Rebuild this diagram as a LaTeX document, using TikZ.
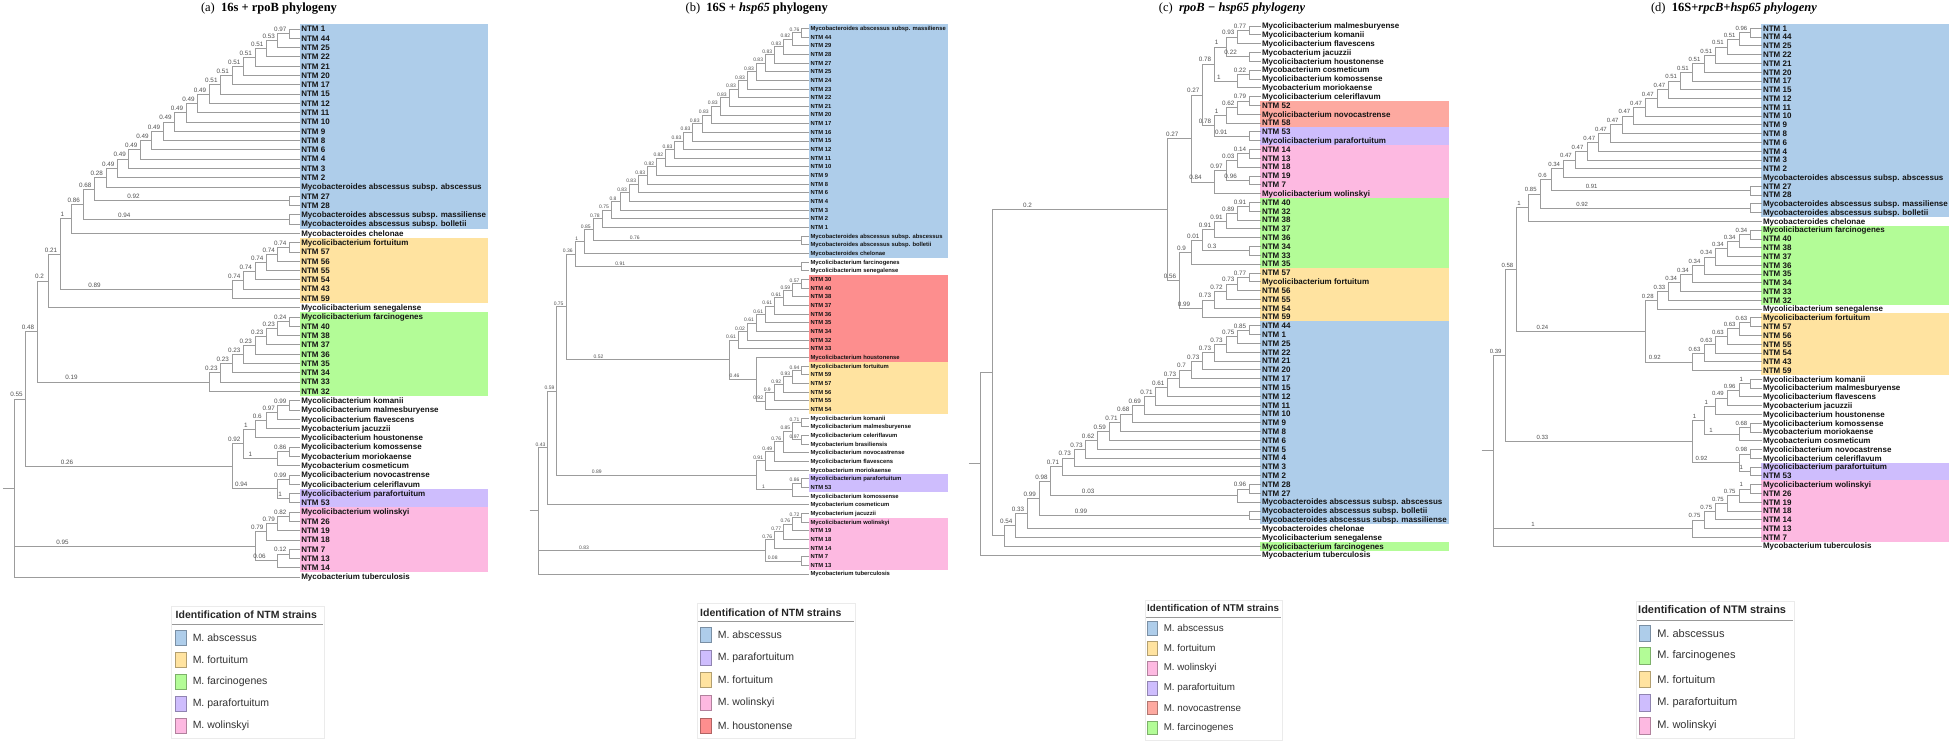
\documentclass[tikz,border=0pt]{standalone}
\usepackage{fontspec}
\usetikzlibrary{calc}
\newfontfamily\lsans{Liberation Sans}
\newfontfamily\lserif{Liberation Serif}
\pgfdeclarelayer{bg}
\pgfsetlayers{bg,main}
\definecolor{brc}{HTML}{9C9C9C}
\definecolor{svc}{HTML}{505050}
\definecolor{txt}{HTML}{141414}
\definecolor{cblue}{HTML}{AECDEA}
\definecolor{cyel}{HTML}{FFE3A0}
\definecolor{cgrn}{HTML}{B3FC97}
\definecolor{cpur}{HTML}{CEBDFD}
\definecolor{cpnk}{HTML}{FDB9E1}
\definecolor{cred}{HTML}{FD8E8E}
\definecolor{csal}{HTML}{FDA9A0}
\tikzset{
  br/.style={draw=brc, line width=0.75pt},
  leaf/.style={anchor=west, inner xsep=1.3pt, inner ysep=0pt, outer sep=0pt, text=txt,
    font=\lsans\bfseries\fontsize{\LFS}{\LFS}\selectfont, text height=\LTH, text depth=0pt},
  sv/.style={anchor=south, inner sep=0.6pt, yshift=\SVY, text=svc,
    font=\lsans\fontsize{\SFS}{\SFS}\selectfont},
  ttl/.style={anchor=base, inner sep=0pt, font=\lserif\fontsize{12.5}{14}\selectfont},
  lgbox/.style={draw=black!8, fill=white, line width=0.6pt},
  lgline/.style={draw=black!40, line width=1pt},
  lgt/.style={anchor=west, inner sep=0pt, text=black!85, font=\lsans\bfseries\fontsize{\GFS}{\GFS}\selectfont},
  lgi/.style={anchor=west, inner sep=0pt, text=black!80, font=\lsans\fontsize{\GFS}{\GFS}\selectfont},
  sw/.style={minimum width=\SWW, minimum height=\SWH, inner sep=0pt, line width=0.6pt},
}
\newcommand\lf[3]{\node[leaf] (#1) at (\LX,{\YO+(#2-1)*\DY}) {#3};}
\newcommand\svlab[2]{\ifcsname sv@#2\endcsname\path ($(#1 |- #2)!0.2!(#2)$) node[sv] (sv#2) {\csname sv@#2\endcsname};\fi}
\newcommand\cl[5]{%
  \path let \p1=(#4), \p2=(#5) in ({(\LO-(#2)*\ST)*1pt},{0.5*(\y1+\y2)}) coordinate (#1);%
  \draw[br] (#1) |- (#4);\draw[br] (#1) |- (#5);%
  \svlab{#1}{#4}\svlab{#1}{#5}%
  \expandafter\xdef\csname sv@#1\endcsname{#3}}
\newcommand\clt[6]{%
  \path let \p1=(#4), \p2=(#6) in ({(\LO-(#2)*\ST)*1pt},{0.5*(\y1+\y2)}) coordinate (#1);%
  \draw[br] (#1) |- (#4);\draw[br] (#1) |- (#5);\draw[br] (#1) |- (#6);%
  \svlab{#1}{#4}\svlab{#1}{#5}\svlab{#1}{#6}%
  \expandafter\xdef\csname sv@#1\endcsname{#3}}
\newcommand\stub[2]{\path (#1) ++({-\ST},0) coordinate (#2); \draw[br] (#2) -- (#1);}
\newcommand\bx[3]{\begin{pgfonlayer}{bg}\fill[#1] let \p1=(\WID.east) in ({\LX-0.5},{\YO+(#2-1.5)*\DY}) rectangle (\x1+0.8pt,{-(\YO+(#3-0.5)*\DY)*1pt});\end{pgfonlayer}}
\newcommand\lgitem[5]{\node[sw, fill=#4, draw=#4!70!black] (#1) at (#2,#3) {}; \node[lgi] (#1t) at ($(#1.east)+(6,0)$) {#5};}
\begin{document}
\begin{tikzpicture}[x=1pt,y=-1pt]
\useasboundingbox (0,0) rectangle (1949,743);
\begin{pgfonlayer}{bg}\fill[white] (0,0) rectangle (1949,743);\end{pgfonlayer}

% ---------------- titles
\node[ttl] (TA) at (269,11.3) {(a)\ \ \textbf{16s + rpoB phylogeny}};
\node[ttl] (TB) at (756.7,11.3) {(b)\ \ \textbf{16S + \textit{hsp65} phylogeny}};
\node[ttl] (TC) at (1232,11.3) {(c)\ \ \textbf{\textit{rpoB − hsp65 phylogeny}}};
\node[ttl] (TD) at (1734,11.3) {(d)\ \ \textbf{16S+\textit{rpcB+hsp65 phylogeny}}};

% ================= PANEL A
\begin{scope}
\def\LX{300}\def\YO{29}\def\DY{9.29}\def\LO{289.3}\def\ST{11.46}
\def\LFS{8}\def\LTH{5.75pt}\def\SFS{6.3}\def\SVY{1.2pt}\def\WID{A21}
\lf{A1}{1}{NTM 1}\lf{A2}{2}{NTM 44}\lf{A3}{3}{NTM 25}\lf{A4}{4}{NTM 22}\lf{A5}{5}{NTM 21}
\lf{A6}{6}{NTM 20}\lf{A7}{7}{NTM 17}\lf{A8}{8}{NTM 15}\lf{A9}{9}{NTM 12}\lf{A10}{10}{NTM 11}
\lf{A11}{11}{NTM 10}\lf{A12}{12}{NTM 9}\lf{A13}{13}{NTM 8}\lf{A14}{14}{NTM 6}\lf{A15}{15}{NTM 4}
\lf{A16}{16}{NTM 3}\lf{A17}{17}{NTM 2}
\lf{A18}{18}{Mycobacteroides abscessus subsp. abscessus}
\lf{A19}{19}{NTM 27}\lf{A20}{20}{NTM 28}
\lf{A21}{21}{Mycobacteroides abscessus subsp. massiliense}
\lf{A22}{22}{Mycobacteroides abscessus subsp. bolletii}
\lf{A23}{23}{Mycobacteroides chelonae}
\lf{A24}{24}{Mycolicibacterium fortuitum}
\lf{A25}{25}{NTM 57}\lf{A26}{26}{NTM 56}\lf{A27}{27}{NTM 55}\lf{A28}{28}{NTM 54}\lf{A29}{29}{NTM 43}\lf{A30}{30}{NTM 59}
\lf{A31}{31}{Mycolicibacterium senegalense}
\lf{A32}{32}{Mycolicibacterium farcinogenes}
\lf{A33}{33}{NTM 40}\lf{A34}{34}{NTM 38}\lf{A35}{35}{NTM 37}\lf{A36}{36}{NTM 36}\lf{A37}{37}{NTM 35}
\lf{A38}{38}{NTM 34}\lf{A39}{39}{NTM 33}\lf{A40}{40}{NTM 32}
\lf{A41}{41}{Mycolicibacterium komanii}
\lf{A42}{42}{Mycolicibacterium malmesburyense}
\lf{A43}{43}{Mycolicibacterium flavescens}
\lf{A44}{44}{Mycobacterium jacuzzii}
\lf{A45}{45}{Mycolicibacterium houstonense}
\lf{A46}{46}{Mycolicibacterium komossense}
\lf{A47}{47}{Mycobacterium moriokaense}
\lf{A48}{48}{Mycobacterium cosmeticum}
\lf{A49}{49}{Mycolicibacterium novocastrense}
\lf{A50}{50}{Mycolicibacterium celeriflavum}
\lf{A51}{51}{Mycolicibacterium parafortuitum}
\lf{A52}{52}{NTM 53}
\lf{A53}{53}{Mycolicibacterium wolinskyi}
\lf{A54}{54}{NTM 26}\lf{A55}{55}{NTM 19}\lf{A56}{56}{NTM 18}\lf{A57}{57}{NTM 7}\lf{A58}{58}{NTM 13}\lf{A59}{59}{NTM 14}
\lf{A60}{60}{Mycobacterium tuberculosis}
\bx{cblue}{1}{22}\bx{cyel}{24}{30}\bx{cgrn}{32}{40}\bx{cpur}{51}{52}\bx{cpnk}{53}{59}
\cl{An1}{0}{0.97}{A1}{A2}
\cl{An2}{1}{0.53}{An1}{A3}
\cl{An3}{2}{0.51}{An2}{A4}
\cl{An4}{3}{0.51}{An3}{A5}
\cl{An5}{4}{0.51}{An4}{A6}
\cl{An6}{5}{0.51}{An5}{A7}
\cl{An7}{6}{0.51}{An6}{A8}
\cl{An8}{7}{0.49}{An7}{A9}
\cl{An9}{8}{0.49}{An8}{A10}
\cl{An10}{9}{0.49}{An9}{A11}
\cl{An11}{10}{0.49}{An10}{A12}
\cl{An12}{11}{0.49}{An11}{A13}
\cl{An13}{12}{0.49}{An12}{A14}
\cl{An14}{13}{0.49}{An13}{A15}
\cl{An15}{14}{0.49}{An14}{A16}
\cl{An16}{15}{0.49}{An15}{A17}
\cl{An17}{16}{0.28}{An16}{A18}
\cl{Ap}{0}{0.92}{A19}{A20}
\cl{An18}{17}{0.68}{An17}{Ap}
\cl{Aq}{0}{0.94}{A21}{A22}
\cl{An19}{18}{0.86}{An18}{Aq}
\cl{An20}{19}{1}{An19}{A23}
\cl{Af1}{0}{0.74}{A24}{A25}
\cl{Af2}{1}{0.74}{Af1}{A26}
\cl{Af3}{2}{0.74}{Af2}{A27}
\cl{Af4}{3}{0.74}{Af3}{A28}
\cl{Af5}{4}{0.74}{Af4}{A29}
\cl{Af6}{5}{0.89}{Af5}{A30}
\cl{An21}{20}{0.21}{An20}{Af6}
\cl{An22}{21}{0.2}{An21}{A31}
\cl{Ag1}{0}{0.24}{A32}{A33}
\cl{Ag2}{1}{0.23}{Ag1}{A34}
\cl{Ag3}{2}{0.23}{Ag2}{A35}
\cl{Ag4}{3}{0.23}{Ag3}{A36}
\cl{Ag5}{4}{0.23}{Ag4}{A37}
\cl{Ag6}{5}{0.23}{Ag5}{A38}
\cl{Ag7}{6}{0.23}{Ag6}{A39}
\cl{Ag8}{7}{0.19}{Ag7}{A40}
\cl{An23}{22}{0.48}{An22}{Ag8}
\cl{Am1}{0}{0.99}{A41}{A42}
\cl{Am2}{1}{0.97}{Am1}{A43}
\cl{Am3}{2}{0.6}{Am2}{A44}
\cl{Am4}{3}{1}{Am3}{A45}
\cl{Am5}{0}{0.86}{A46}{A47}
\cl{Am6}{1}{1}{Am5}{A48}
\cl{Am7}{4}{0.92}{Am4}{Am6}
\cl{Am8}{0}{0.99}{A49}{A50}
\cl{Am9}{0}{1}{A51}{A52}
\cl{Am10}{1}{0.94}{Am8}{Am9}
\cl{Am11}{5}{0.26}{Am7}{Am10}
\cl{An24}{23}{0.55}{An23}{Am11}
\cl{Aw1}{0}{0.82}{A53}{A54}
\cl{Aw2}{1}{0.79}{Aw1}{A55}
\cl{Aw3}{2}{0.79}{Aw2}{A56}
\cl{Aw4}{0}{0.12}{A57}{A58}
\cl{Aw5}{1}{0.06}{Aw4}{A59}
\cl{Aw6}{3}{0.95}{Aw3}{Aw5}
\clt{AR}{24}{}{An24}{Aw6}{A60}
\stub{AR}{AS}
\end{scope}

% ================= PANEL B
\begin{scope}
\def\LX{809.3}\def\YO{28.3}\def\DY{8.66}\def\LO{801.7}\def\ST{9.07}
\def\LFS{5.85}\def\LTH{4.2pt}\def\SFS{5}\def\SVY{0.4pt}\def\WID{B1}
\lf{B1}{1}{Mycobacteroides abscessus subsp. massiliense}
\lf{B2}{2}{NTM 44}\lf{B3}{3}{NTM 29}\lf{B4}{4}{NTM 28}\lf{B5}{5}{NTM 27}\lf{B6}{6}{NTM 25}
\lf{B7}{7}{NTM 24}\lf{B8}{8}{NTM 23}\lf{B9}{9}{NTM 22}\lf{B10}{10}{NTM 21}\lf{B11}{11}{NTM 20}
\lf{B12}{12}{NTM 17}\lf{B13}{13}{NTM 16}\lf{B14}{14}{NTM 15}\lf{B15}{15}{NTM 12}\lf{B16}{16}{NTM 11}
\lf{B17}{17}{NTM 10}\lf{B18}{18}{NTM 9}\lf{B19}{19}{NTM 8}\lf{B20}{20}{NTM 6}\lf{B21}{21}{NTM 4}
\lf{B22}{22}{NTM 3}\lf{B23}{23}{NTM 2}\lf{B24}{24}{NTM 1}
\lf{B25}{25}{Mycobacteroides abscessus subsp. abscessus}
\lf{B26}{26}{Mycobacteroides abscessus subsp. bolletii}
\lf{B27}{27}{Mycobacteroides chelonae}
\lf{B28}{28}{Mycolicibacterium farcinogenes}
\lf{B29}{29}{Mycolicibacterium senegalense}
\lf{B30}{30}{NTM 30}\lf{B31}{31}{NTM 40}\lf{B32}{32}{NTM 38}\lf{B33}{33}{NTM 37}\lf{B34}{34}{NTM 36}
\lf{B35}{35}{NTM 35}\lf{B36}{36}{NTM 34}\lf{B37}{37}{NTM 32}\lf{B38}{38}{NTM 33}
\lf{B39}{39}{Mycolicibacterium houstonense}
\lf{B40}{40}{Mycolicibacterium fortuitum}
\lf{B41}{41}{NTM 59}\lf{B42}{42}{NTM 57}\lf{B43}{43}{NTM 56}\lf{B44}{44}{NTM 55}\lf{B45}{45}{NTM 54}
\lf{B46}{46}{Mycolicibacterium komanii}
\lf{B47}{47}{Mycolicibacterium malmesburyense}
\lf{B48}{48}{Mycolicibacterium celeriflavum}
\lf{B49}{49}{Mycobacterium brasiliensis}
\lf{B50}{50}{Mycolicibacterium novocastrense}
\lf{B51}{51}{Mycolicibacterium flavescens}
\lf{B52}{52}{Mycobacterium moriokaense}
\lf{B53}{53}{Mycolicibacterium parafortuitum}
\lf{B54}{54}{NTM 53}
\lf{B55}{55}{Mycolicibacterium komossense}
\lf{B56}{56}{Mycobacterium cosmeticum}
\lf{B57}{57}{Mycobacterium jacuzzii}
\lf{B58}{58}{Mycolicibacterium wolinskyi}
\lf{B59}{59}{NTM 19}\lf{B60}{60}{NTM 18}\lf{B61}{61}{NTM 14}\lf{B62}{62}{NTM 7}\lf{B63}{63}{NTM 13}
\lf{B64}{64}{Mycobacterium tuberculosis}
\bx{cblue}{1}{27}\bx{cred}{30}{39}\bx{cyel}{40}{45}\bx{cpur}{53}{54}\bx{cpnk}{58}{63}
\cl{Bb1}{0}{0.76}{B1}{B2}
\cl{Bb2}{1}{0.82}{Bb1}{B3}
\cl{Bb3}{2}{0.83}{Bb2}{B4}
\cl{Bb4}{3}{0.83}{Bb3}{B5}
\cl{Bb5}{4}{0.83}{Bb4}{B6}
\cl{Bb6}{5}{0.83}{Bb5}{B7}
\cl{Bb7}{6}{0.83}{Bb6}{B8}
\cl{Bb8}{7}{0.83}{Bb7}{B9}
\cl{Bb9}{8}{0.83}{Bb8}{B10}
\cl{Bb10}{9}{0.83}{Bb9}{B11}
\cl{Bb11}{10}{0.83}{Bb10}{B12}
\cl{Bb12}{11}{0.83}{Bb11}{B13}
\cl{Bb13}{12}{0.83}{Bb12}{B14}
\cl{Bb14}{13}{0.83}{Bb13}{B15}
\cl{Bb15}{14}{0.83}{Bb14}{B16}
\cl{Bb16}{15}{0.82}{Bb15}{B17}
\cl{Bb17}{16}{0.82}{Bb16}{B18}
\cl{Bb18}{17}{0.83}{Bb17}{B19}
\cl{Bb19}{18}{0.83}{Bb18}{B20}
\cl{Bb20}{19}{0.83}{Bb19}{B21}
\cl{Bb21}{20}{0.8}{Bb20}{B22}
\cl{Bb22}{21}{0.75}{Bb21}{B23}
\cl{Bb23}{22}{0.78}{Bb22}{B24}
\cl{Bab}{0}{0.76}{B25}{B26}
\cl{Bb24}{23}{0.85}{Bb23}{Bab}
\cl{Bb25}{24}{1}{Bb24}{B27}
\cl{Bfs}{0}{0.91}{B28}{B29}
\cl{Bb26}{25}{0.36}{Bb25}{Bfs}
\cl{Br1}{0}{0.57}{B30}{B31}
\cl{Br2}{1}{0.59}{Br1}{B32}
\cl{Br3}{2}{0.61}{Br2}{B33}
\cl{Br4}{3}{0.61}{Br3}{B34}
\cl{Br5}{4}{0.61}{Br4}{B35}
\cl{Br6}{5}{0.61}{Br5}{B36}
\cl{Br7}{6}{0.02}{Br6}{B37}
\cl{Br8}{7}{0.61}{Br7}{B38}
\cl{By1}{0}{0.94}{B40}{B41}
\cl{By2}{1}{0.93}{By1}{B42}
\cl{By3}{2}{0.92}{By2}{B43}
\cl{By4}{3}{0.9}{By3}{B44}
\cl{By5}{4}{0.92}{By4}{B45}
\cl{By6}{5}{0.46}{B39}{By5}
\cl{Br9}{8}{0.52}{Br8}{By6}
\cl{Bb27}{26}{0.75}{Bb26}{Br9}
\cl{Bm1}{0}{0.71}{B46}{B47}
\cl{Bm2}{0}{0.97}{B48}{B49}
\cl{Bm3}{1}{0.85}{Bm1}{Bm2}
\cl{Bm4}{2}{0.76}{Bm3}{B50}
\cl{Bm5}{3}{0.49}{Bm4}{B51}
\cl{Bm6}{4}{0.91}{Bm5}{B52}
\cl{Bm7}{0}{0.86}{B53}{B54}
\cl{Bm8}{1}{1}{Bm7}{B55}
\cl{Bm9}{5}{0.89}{Bm6}{Bm8}
\cl{Bb28}{27}{0.59}{Bb27}{Bm9}
\cl{Bb29}{28}{0.43}{Bb28}{B56}
\cl{Bw1}{0}{0.72}{B57}{B58}
\cl{Bw2}{1}{0.76}{Bw1}{B59}
\cl{Bw3}{2}{0.77}{Bw2}{B60}
\cl{Bw4}{3}{0.76}{Bw3}{B61}
\cl{Bw5}{0}{0.08}{B62}{B63}
\cl{Bw6}{4}{0.83}{Bw4}{Bw5}
\clt{BR}{29}{}{Bb29}{Bw6}{B64}
\stub{BR}{BS}
\end{scope}

% ================= PANEL C
\begin{scope}
\def\LX{1260.7}\def\YO{26}\def\DY{8.817}\def\LO{1249.3}\def\ST{11.68}
\def\LFS{8}\def\LTH{5.75pt}\def\SFS{6.3}\def\SVY{1.2pt}\def\WID{C57}
\lf{C1}{1}{Mycolicibacterium malmesburyense}
\lf{C2}{2}{Mycolicibacterium komanii}
\lf{C3}{3}{Mycolicibacterium flavescens}
\lf{C4}{4}{Mycobacterium jacuzzii}
\lf{C5}{5}{Mycolicibacterium houstonense}
\lf{C6}{6}{Mycobacterium cosmeticum}
\lf{C7}{7}{Mycolicibacterium komossense}
\lf{C8}{8}{Mycobacterium moriokaense}
\lf{C9}{9}{Mycolicibacterium celeriflavum}
\lf{C10}{10}{NTM 52}
\lf{C11}{11}{Mycolicibacterium novocastrense}
\lf{C12}{12}{NTM 58}
\lf{C13}{13}{NTM 53}
\lf{C14}{14}{Mycolicibacterium parafortuitum}
\lf{C15}{15}{NTM 14}\lf{C16}{16}{NTM 13}\lf{C17}{17}{NTM 18}\lf{C18}{18}{NTM 19}\lf{C19}{19}{NTM 7}
\lf{C20}{20}{Mycolicibacterium wolinskyi}
\lf{C21}{21}{NTM 40}\lf{C22}{22}{NTM 32}\lf{C23}{23}{NTM 38}\lf{C24}{24}{NTM 37}\lf{C25}{25}{NTM 36}
\lf{C26}{26}{NTM 34}\lf{C27}{27}{NTM 33}\lf{C28}{28}{NTM 35}
\lf{C29}{29}{NTM 57}
\lf{C30}{30}{Mycolicibacterium fortuitum}
\lf{C31}{31}{NTM 56}\lf{C32}{32}{NTM 55}\lf{C33}{33}{NTM 54}\lf{C34}{34}{NTM 59}
\lf{C35}{35}{NTM 44}\lf{C36}{36}{NTM 1}\lf{C37}{37}{NTM 25}\lf{C38}{38}{NTM 22}\lf{C39}{39}{NTM 21}
\lf{C40}{40}{NTM 20}\lf{C41}{41}{NTM 17}\lf{C42}{42}{NTM 15}\lf{C43}{43}{NTM 12}\lf{C44}{44}{NTM 11}
\lf{C45}{45}{NTM 10}\lf{C46}{46}{NTM 9}\lf{C47}{47}{NTM 8}\lf{C48}{48}{NTM 6}\lf{C49}{49}{NTM 5}
\lf{C50}{50}{NTM 4}\lf{C51}{51}{NTM 3}\lf{C52}{52}{NTM 2}\lf{C53}{53}{NTM 28}\lf{C54}{54}{NTM 27}
\lf{C55}{55}{Mycobacteroides abscessus subsp. abscessus}
\lf{C56}{56}{Mycobacteroides abscessus subsp. bolletii}
\lf{C57}{57}{Mycobacteroides abscessus subsp. massiliense}
\lf{C58}{58}{Mycobacteroides chelonae}
\lf{C59}{59}{Mycolicibacterium senegalense}
\lf{C60}{60}{Mycolicibacterium farcinogenes}
\lf{C61}{61}{Mycobacterium tuberculosis}
\bx{csal}{10}{12}\bx{cpur}{13}{14}\bx{cpnk}{15}{20}\bx{cgrn}{21}{28}\bx{cyel}{29}{34}\bx{cblue}{35}{57}\bx{cgrn}{60}{60}
\cl{Cc1}{0}{0.77}{C1}{C2}
\cl{Cc2}{1}{0.93}{Cc1}{C3}
\cl{Cc3}{0}{0.22}{C4}{C5}
\cl{Cc4}{2}{1}{Cc2}{Cc3}
\cl{Cc5}{0}{0.22}{C6}{C7}
\cl{Cc6}{1}{1}{Cc5}{C8}
\cl{Cc7}{3}{0.78}{Cc4}{Cc6}
\cl{Cc8}{0}{0.79}{C9}{C10}
\cl{Cc9}{1}{0.62}{Cc8}{C11}
\cl{Cc10}{2}{1}{Cc9}{C12}
\cl{Cc11}{0}{0.91}{C13}{C14}
\cl{Cc12}{3}{0.78}{Cc10}{Cc11}
\cl{Cc13}{4}{0.27}{Cc7}{Cc12}
\cl{Cc14}{0}{0.14}{C15}{C16}
\cl{Cc15}{1}{0.03}{Cc14}{C17}
\cl{Cc16}{0}{0.96}{C18}{C19}
\cl{Cc17}{2}{0.97}{Cc15}{Cc16}
\cl{Cc18}{3}{0.84}{Cc17}{C20}
\cl{Cc19}{5}{0.27}{Cc13}{Cc18}
\cl{Cg1}{0}{0.91}{C21}{C22}
\cl{Cg2}{1}{0.89}{Cg1}{C23}
\cl{Cg3}{2}{0.91}{Cg2}{C24}
\cl{Cg4}{3}{0.91}{Cg3}{C25}
\cl{Cg5}{0}{0.3}{C26}{C27}
\cl{Cg6}{4}{0.01}{Cg4}{Cg5}
\cl{Cg7}{5}{0.9}{Cg6}{C28}
\cl{Cy1}{0}{0.77}{C29}{C30}
\cl{Cy2}{1}{0.73}{Cy1}{C31}
\cl{Cy3}{2}{0.72}{Cy2}{C32}
\cl{Cy4}{3}{0.73}{Cy3}{C33}
\cl{Cy5}{4}{0.99}{Cy4}{C34}
\cl{Cg8}{6}{0.56}{Cg7}{Cy5}
\cl{Cc20}{7}{0.2}{Cc19}{Cg8}
\cl{Ca1}{0}{0.85}{C35}{C36}
\cl{Ca2}{1}{0.75}{Ca1}{C37}
\cl{Ca3}{2}{0.73}{Ca2}{C38}
\cl{Ca4}{3}{0.73}{Ca3}{C39}
\cl{Ca5}{4}{0.73}{Ca4}{C40}
\cl{Ca6}{5}{0.7}{Ca5}{C41}
\cl{Ca7}{6}{0.73}{Ca6}{C42}
\cl{Ca8}{7}{0.61}{Ca7}{C43}
\cl{Ca9}{8}{0.71}{Ca8}{C44}
\cl{Ca10}{9}{0.69}{Ca9}{C45}
\cl{Ca11}{10}{0.68}{Ca10}{C46}
\cl{Ca12}{11}{0.71}{Ca11}{C47}
\cl{Ca13}{12}{0.59}{Ca12}{C48}
\cl{Ca14}{13}{0.62}{Ca13}{C49}
\cl{Ca15}{14}{0.73}{Ca14}{C50}
\cl{Ca16}{15}{0.73}{Ca15}{C51}
\cl{Ca17}{16}{0.71}{Ca16}{C52}
\cl{Ca18}{0}{0.96}{C53}{C54}
\cl{Ca19}{1}{0.03}{Ca18}{C55}
\cl{Ca20}{17}{0.98}{Ca17}{Ca19}
\cl{Ca21}{0}{0.99}{C56}{C57}
\cl{Ca22}{18}{0.99}{Ca20}{Ca21}
\cl{Ca23}{19}{0.33}{Ca22}{C58}
\cl{Ck1}{20}{0.54}{Ca23}{C59}
\cl{Ck2}{21}{}{Ck1}{C60}
\cl{Ck3}{22}{}{Cc20}{Ck2}
\cl{CR}{23}{}{Ck3}{C61}
\stub{CR}{CS}
\end{scope}

% ================= PANEL D
\begin{scope}
\def\LX{1761.7}\def\YO{28.3}\def\DY{8.775}\def\LO{1750.7}\def\ST{11.7}
\def\LFS{8}\def\LTH{5.75pt}\def\SFS{6}\def\SVY{1.2pt}\def\WID{D21}
\lf{D1}{1}{NTM 1}\lf{D2}{2}{NTM 44}\lf{D3}{3}{NTM 25}\lf{D4}{4}{NTM 22}\lf{D5}{5}{NTM 21}
\lf{D6}{6}{NTM 20}\lf{D7}{7}{NTM 17}\lf{D8}{8}{NTM 15}\lf{D9}{9}{NTM 12}\lf{D10}{10}{NTM 11}
\lf{D11}{11}{NTM 10}\lf{D12}{12}{NTM 9}\lf{D13}{13}{NTM 8}\lf{D14}{14}{NTM 6}\lf{D15}{15}{NTM 4}
\lf{D16}{16}{NTM 3}\lf{D17}{17}{NTM 2}
\lf{D18}{18}{Mycobacteroides abscessus subsp. abscessus}
\lf{D19}{19}{NTM 27}\lf{D20}{20}{NTM 28}
\lf{D21}{21}{Mycobacteroides abscessus subsp. massiliense}
\lf{D22}{22}{Mycobacteroides abscessus subsp. bolletii}
\lf{D23}{23}{Mycobacteroides chelonae}
\lf{D24}{24}{Mycolicibacterium farcinogenes}
\lf{D25}{25}{NTM 40}\lf{D26}{26}{NTM 38}\lf{D27}{27}{NTM 37}\lf{D28}{28}{NTM 36}\lf{D29}{29}{NTM 35}
\lf{D30}{30}{NTM 34}\lf{D31}{31}{NTM 33}\lf{D32}{32}{NTM 32}
\lf{D33}{33}{Mycolicibacterium senegalense}
\lf{D34}{34}{Mycolicibacterium fortuitum}
\lf{D35}{35}{NTM 57}\lf{D36}{36}{NTM 56}\lf{D37}{37}{NTM 55}\lf{D38}{38}{NTM 54}\lf{D39}{39}{NTM 43}\lf{D40}{40}{NTM 59}
\lf{D41}{41}{Mycolicibacterium komanii}
\lf{D42}{42}{Mycolicibacterium malmesburyense}
\lf{D43}{43}{Mycolicibacterium flavescens}
\lf{D44}{44}{Mycobacterium jacuzzii}
\lf{D45}{45}{Mycolicibacterium houstonense}
\lf{D46}{46}{Mycolicibacterium komossense}
\lf{D47}{47}{Mycobacterium moriokaense}
\lf{D48}{48}{Mycobacterium cosmeticum}
\lf{D49}{49}{Mycolicibacterium novocastrense}
\lf{D50}{50}{Mycolicibacterium celeriflavum}
\lf{D51}{51}{Mycolicibacterium parafortuitum}
\lf{D52}{52}{NTM 53}
\lf{D53}{53}{Mycolicibacterium wolinskyi}
\lf{D54}{54}{NTM 26}\lf{D55}{55}{NTM 19}\lf{D56}{56}{NTM 18}\lf{D57}{57}{NTM 14}\lf{D58}{58}{NTM 13}\lf{D59}{59}{NTM 7}
\lf{D60}{60}{Mycobacterium tuberculosis}
\bx{cblue}{1}{22}\bx{cgrn}{24}{32}\bx{cyel}{34}{40}\bx{cpur}{51}{52}\bx{cpnk}{53}{59}
\cl{Dd1}{0}{0.96}{D1}{D2}
\cl{Dd2}{1}{0.51}{Dd1}{D3}
\cl{Dd3}{2}{0.51}{Dd2}{D4}
\cl{Dd4}{3}{0.51}{Dd3}{D5}
\cl{Dd5}{4}{0.51}{Dd4}{D6}
\cl{Dd6}{5}{0.51}{Dd5}{D7}
\cl{Dd7}{6}{0.51}{Dd6}{D8}
\cl{Dd8}{7}{0.47}{Dd7}{D9}
\cl{Dd9}{8}{0.47}{Dd8}{D10}
\cl{Dd10}{9}{0.47}{Dd9}{D11}
\cl{Dd11}{10}{0.47}{Dd10}{D12}
\cl{Dd12}{11}{0.47}{Dd11}{D13}
\cl{Dd13}{12}{0.47}{Dd12}{D14}
\cl{Dd14}{13}{0.47}{Dd13}{D15}
\cl{Dd15}{14}{0.47}{Dd14}{D16}
\cl{Dd16}{15}{0.47}{Dd15}{D17}
\cl{Dd17}{16}{0.34}{Dd16}{D18}
\cl{Dp}{0}{0.91}{D19}{D20}
\cl{Dd19}{17}{0.6}{Dd17}{Dp}
\cl{Dq}{0}{0.92}{D21}{D22}
\cl{Dd21}{18}{0.85}{Dd19}{Dq}
\cl{Dd22}{19}{1}{Dd21}{D23}
\cl{De1}{0}{0.34}{D24}{D25}
\cl{De2}{1}{0.34}{De1}{D26}
\cl{De3}{2}{0.34}{De2}{D27}
\cl{De4}{3}{0.34}{De3}{D28}
\cl{De5}{4}{0.34}{De4}{D29}
\cl{De6}{5}{0.34}{De5}{D30}
\cl{De7}{6}{0.34}{De6}{D31}
\cl{De8}{7}{0.33}{De7}{D32}
\cl{De9}{8}{0.28}{De8}{D33}
\cl{Df1}{0}{0.63}{D34}{D35}
\cl{Df2}{1}{0.63}{Df1}{D36}
\cl{Df3}{2}{0.63}{Df2}{D37}
\cl{Df4}{3}{0.63}{Df3}{D38}
\cl{Df5}{4}{0.63}{Df4}{D39}
\cl{Df6}{5}{0.92}{Df5}{D40}
\cl{Def}{9}{0.24}{De9}{Df6}
\cl{Dd23}{20}{0.58}{Dd22}{Def}
\cl{Dh1}{0}{1}{D41}{D42}
\cl{Dh2}{1}{0.96}{Dh1}{D43}
\cl{Dh3}{2}{0.49}{Dh2}{D44}
\cl{Dh4}{3}{1}{Dh3}{D45}
\cl{Dh5}{0}{0.68}{D46}{D47}
\cl{Dh6}{1}{1}{Dh5}{D48}
\cl{Dh7}{4}{1}{Dh4}{Dh6}
\cl{Dh8}{0}{0.98}{D49}{D50}
\cl{Dh9}{0}{1}{D51}{D52}
\cl{Dh10}{1}{0.92}{Dh8}{Dh9}
\cl{Dh11}{5}{0.33}{Dh7}{Dh10}
\cl{Dd24}{21}{0.39}{Dd23}{Dh11}
\cl{Dw1}{0}{1}{D53}{D54}
\cl{Dw2}{1}{0.75}{Dw1}{D55}
\cl{Dw3}{2}{0.75}{Dw2}{D56}
\cl{Dw4}{3}{0.75}{Dw3}{D57}
\cl{Dw5}{4}{0.75}{Dw4}{D58}
\cl{Dw6}{5}{1}{Dw5}{D59}
\clt{DR}{22}{}{Dd24}{Dw6}{D60}
\stub{DR}{DS}
\end{scope}

% ================= LEGENDS
\begin{scope}
\def\GFS{10.5}\def\SWH{15pt}\def\SWW{10.5pt}
\draw[lgbox] (171,606.7) rectangle (324,738.3);
\node[lgt] (LAh) at (175.5,615) {Identification of NTM strains};
\draw[lgline] (172,624.3) -- (323,624.3);
\lgitem{LA1}{181}{637.3}{cblue}{M. abscessus}
\lgitem{LA2}{181}{660}{cyel}{M. fortuitum}
\lgitem{LA3}{181}{682}{cgrn}{M. farcinogenes}
\lgitem{LA4}{181}{704}{cpur}{M. parafortuitum}
\lgitem{LA5}{181}{726}{cpnk}{M. wolinskyi}

\draw[lgbox] (697,603.3) rectangle (855,738);
\node[lgt] (LBh) at (700,612.3) {Identification of NTM strains};
\draw[lgline] (698,621.7) -- (854,621.7);
\lgitem{LB1}{706}{635}{cblue}{M. abscessus}
\lgitem{LB2}{706}{657.7}{cpur}{M. parafortuitum}
\lgitem{LB3}{706}{680}{cyel}{M. fortuitum}
\lgitem{LB4}{706}{702.7}{cpnk}{M. wolinskyi}
\lgitem{LB5}{706}{725.7}{cred}{M. houstonense}
\end{scope}
\begin{scope}
\def\GFS{11}\def\SWH{16.5pt}\def\SWW{11.5pt}
\draw[lgbox] (1636,601.7) rectangle (1794,738.3);
\node[lgt] (LDh) at (1638,610) {Identification of NTM strains};
\draw[lgline] (1637,620.7) -- (1793,620.7);
\lgitem{LD1}{1645}{633.3}{cblue}{M. abscessus}
\lgitem{LD2}{1645}{656}{cgrn}{M. farcinogenes}
\lgitem{LD3}{1645}{679.3}{cyel}{M. fortuitum}
\lgitem{LD4}{1645}{702.7}{cpur}{M. parafortuitum}
\lgitem{LD5}{1645}{726}{cpnk}{M. wolinskyi}
\end{scope}
\begin{scope}
\def\GFS{9.8}\def\SWH{13.3pt}\def\SWW{9.5pt}
\draw[lgbox] (1145,600.7) rectangle (1282,740);
\node[lgt] (LCh) at (1147,608.3) {Identification of NTM strains};
\draw[lgline] (1146,617.3) -- (1281,617.3);
\lgitem{LC1}{1152.5}{628.3}{cblue}{M. abscessus}
\lgitem{LC2}{1152.5}{648.3}{cyel}{M. fortuitum}
\lgitem{LC3}{1152.5}{668.3}{cpnk}{M. wolinskyi}
\lgitem{LC4}{1152.5}{688.3}{cpur}{M. parafortuitum}
\lgitem{LC5}{1152.5}{707.7}{csal}{M. novocastrense}
\lgitem{LC6}{1152.5}{727.7}{cgrn}{M. farcinogenes}
\end{scope}
\end{tikzpicture}
\end{document}
